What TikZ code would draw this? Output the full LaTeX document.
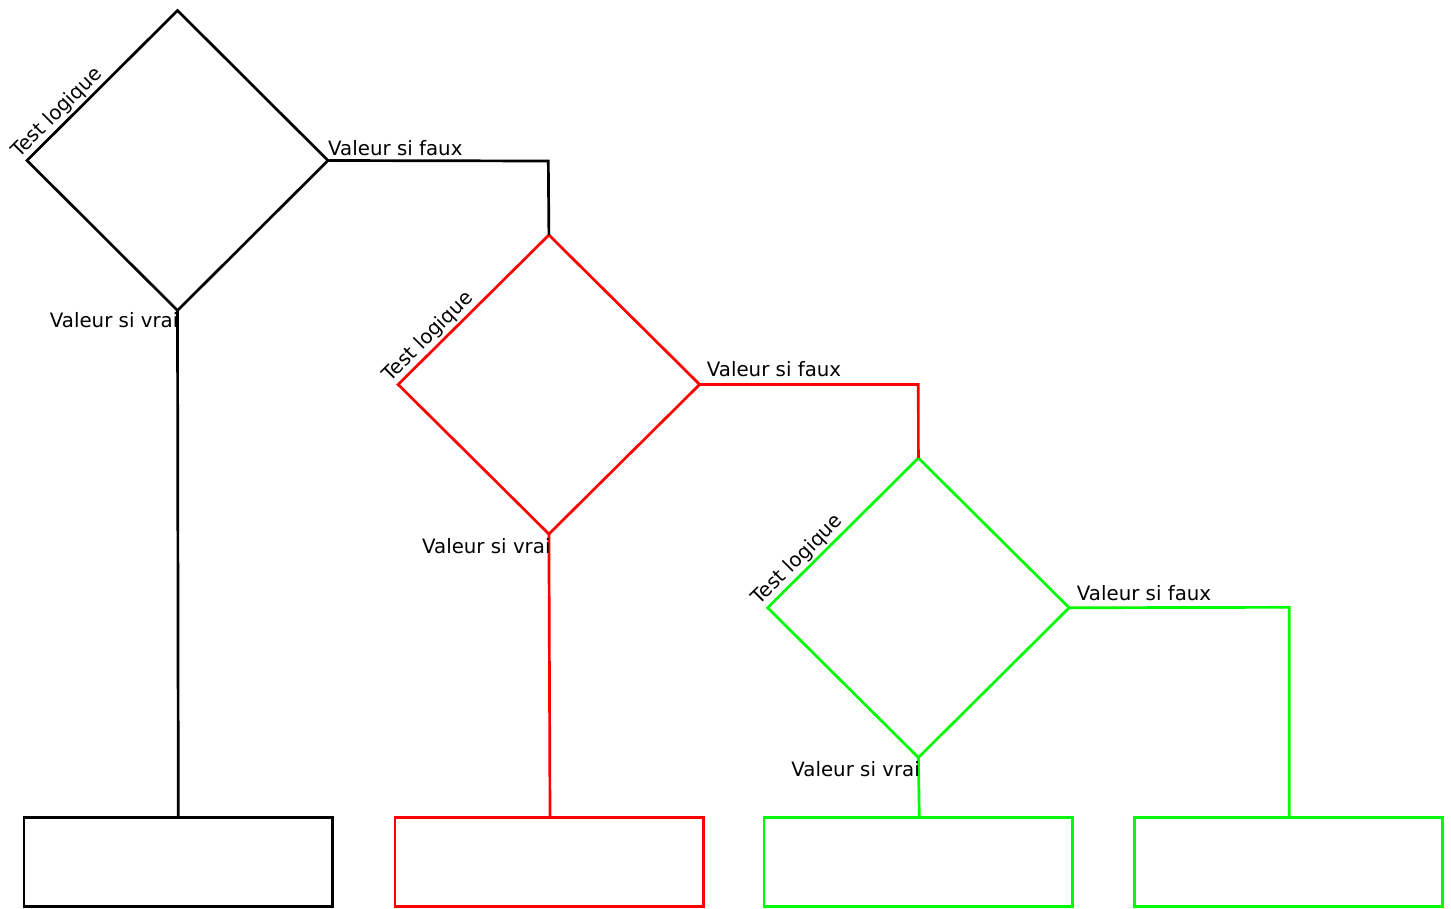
\documentclass[tikz,border=0pt]{standalone}
\usepackage{fontspec}
\setmainfont{DejaVu Sans}
\usetikzlibrary{shapes.geometric,calc}
\definecolor{vert}{RGB}{0,252,0}
\definecolor{rouge}{RGB}{255,0,0}
\tikzset{
  lw/.style={line width=2.7pt},
  decision/.style={diamond, draw, lw, inner sep=0pt, outer sep=0pt, aspect=1},
  result/.style={rectangle, draw, lw, inner sep=0pt, outer sep=0pt, minimum width=308.3pt, minimum height=89.2pt},
  conn/.style={lw},
  lbl/.style={inner sep=0pt, font=\fontsize{19.8}{23}\selectfont, text=black},
  testlbl/.style={lbl, rotate=45, anchor=base west},
}
\begin{document}
\begin{tikzpicture}[x=1pt,y=-1pt]
\useasboundingbox (0,0) rectangle (1451,908);
% decisions
\node[decision, black, minimum width=301pt, minimum height=300pt] (d1) at (177.5,160.5) {};
\node[decision, rouge, minimum width=301.5pt, minimum height=299pt] (d2) at (548.9,384.5) {};
\node[decision, vert, minimum width=301.5pt, minimum height=299.5pt] (d3) at (918.4,607.75) {};
% results
\node[result, black] (r1) at (178.2,861.9) {};
\node[result, rouge] (r2) at (549.2,861.9) {};
\node[result, vert] (r3) at (918.2,861.9) {};
\node[result, vert] (r4) at (1288.4,861.9) {};
% bends and feet
\coordinate (k1) at (548.3,161);
\coordinate (k2) at (918.3,384.5);
\coordinate (k3) at (1289.3,607.3);
\coordinate (b1) at (178.3,817.3);
\coordinate (b2) at (550,817.3);
\coordinate (b3) at (919.3,817.3);
% connectors
\draw[conn, black] (d1.east) -- (k1) -- (d2.north);
\draw[conn, black] (d1.south) -- (b1);
\draw[conn, rouge] (d2.east) -- (k2) -- (d3.north);
\draw[conn, rouge] (d2.south) -- (b2);
\draw[conn, vert] (d3.east) -- (k3) -- (k3 |- r4.north);
\draw[conn, vert] (d3.south) -- (b3);
% labels
\node[testlbl] (t1) at ($(d1.west)+(-8,-2)$) {Test logique};
\node[lbl, anchor=base west] (f1) at (328,155) {Valeur si faux};
\node[lbl, anchor=base east] (v1) at (178.5,327) {Valeur si vrai};
\node[testlbl] (t2) at ($(d2.west)+(-8,-2)$) {Test logique};
\node[lbl, anchor=base west] (f2) at (706.7,376.7) {Valeur si faux};
\node[lbl, anchor=base east] (v2) at (550.7,553) {Valeur si vrai};
\node[testlbl] (t3) at ($(d3.west)+(-8,-2)$) {Test logique};
\node[lbl, anchor=base west] (f3) at (1076.7,600) {Valeur si faux};
\node[lbl, anchor=base east] (v3) at (920,776.7) {Valeur si vrai};
\end{tikzpicture}
\end{document}
